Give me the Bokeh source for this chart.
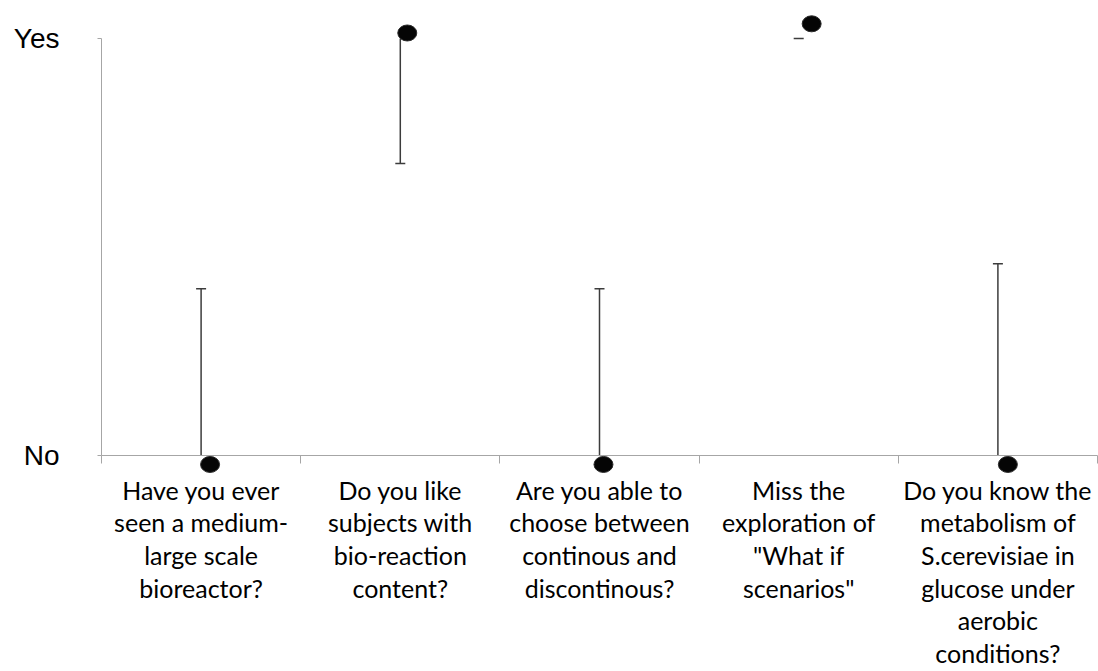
from bokeh.plotting import figure
from bokeh.models import (ColumnDataSource, Range1d, FixedTicker, Whisker, TeeHead)
from bokeh.embed import file_html
from bokeh.resources import INLINE

# ---- data ----
questions = [
    "Have you ever\nseen a medium-\nlarge scale\nbioreactor?",
    "Do you like\nsubjects with\nbio-reaction\ncontent?",
    "Are you able to\nchoose between\ncontinous and\ndiscontinous?",
    "Miss the\nexploration of\n\"What if\nscenarios\"",
    "Do you know the\nmetabolism of\nS.cerevisiae in\nglucose under\naerobic\nconditions?",
]
positions = [1, 2, 3, 4, 5]
means = [0.0, 1.0, 0.0, 1.0, 0.0]
err_size = [0.40, 0.30, 0.40, 0.0, 0.46]
err_dir = ["plus", "minus", "plus", "minus", "plus"]
marker_x = [1.045, 2.035, 3.02, 4.065, 5.05]
marker_y = [-0.0215, 1.013, -0.0215, 1.035, -0.0215]
y_tick_values = [0, 1]
y_tick_labels = ["No", "Yes"]

AXIS = "#a6a6a6"
BAR = "#3c3c3c"

p = figure(width=1098, height=671, output_backend="svg", toolbar_location=None,
           x_range=Range1d(0.5, 5.5), y_range=Range1d(0, 1.0909),
           min_border_left=101, min_border_right=1, min_border_top=0,
           min_border_bottom=215)
p.outline_line_color = None
p.xgrid.visible = False
p.ygrid.visible = False
p.background_fill_color = "white"
p.border_fill_color = "white"

# x axis: labels at centres, ticks at category boundaries
xa = p.xaxis[0]
xa.ticker = FixedTicker(ticks=positions,
                        minor_ticks=[v - 0.5 for v in positions] + [positions[-1] + 0.5])
xa.major_label_overrides = {v: q for v, q in zip(positions, questions)}
xa.major_tick_out = 0
xa.major_tick_in = 0
xa.minor_tick_out = 8
xa.minor_tick_in = 0
xa.axis_line_color = AXIS
xa.minor_tick_line_color = AXIS
xa.major_label_text_font = "Lato"
xa.major_label_text_font_size = "25px"
xa.major_label_text_color = "black"
xa.major_label_text_line_height = 1.09
xa.major_label_standoff = 11

# y axis
ya = p.yaxis[0]
ya.ticker = FixedTicker(ticks=y_tick_values, minor_ticks=[])
ya.major_label_overrides = {v: t for v, t in zip(y_tick_values, y_tick_labels)}
ya.bounds = (0, 1)
ya.major_tick_out = 4
ya.major_tick_in = 0
ya.axis_line_color = AXIS
ya.major_tick_line_color = AXIS
ya.major_label_text_font = "Liberation Sans"
ya.major_label_text_font_size = "28px"
ya.major_label_text_color = "black"
ya.major_label_standoff = 38

# error bars
plus_idx = [i for i, d in enumerate(err_dir) if d == "plus"]
minus_idx = [i for i, d in enumerate(err_dir) if d == "minus"]

src_plus = ColumnDataSource(dict(
    x=[positions[i] for i in plus_idx],
    lower=[means[i] for i in plus_idx],
    upper=[means[i] + err_size[i] for i in plus_idx]))
src_minus = ColumnDataSource(dict(
    x=[positions[i] for i in minus_idx],
    lower=[means[i] - err_size[i] for i in minus_idx],
    upper=[means[i] for i in minus_idx]))

w1 = Whisker(source=src_plus, base="x", lower="lower", upper="upper", dimension="height",
             line_color=BAR, line_width=1.5,
             upper_head=TeeHead(size=10, line_color=BAR, line_width=1.5), lower_head=None)
w2 = Whisker(source=src_minus, base="x", lower="lower", upper="upper", dimension="height",
             line_color=BAR, line_width=1.5,
             lower_head=TeeHead(size=10, line_color=BAR, line_width=1.5), upper_head=None)
p.add_layout(w1)
p.add_layout(w2)

# markers
msrc = ColumnDataSource(dict(x=marker_x, y=marker_y))
r = p.ellipse(x="x", y="y", width=19, height=16, width_units="screen", height_units="screen",
              source=msrc, fill_color="#050505", line_color="#2a2a2a", line_width=1)
r.level = "overlay"

open("out.html", "w").write(file_html(p, INLINE))
